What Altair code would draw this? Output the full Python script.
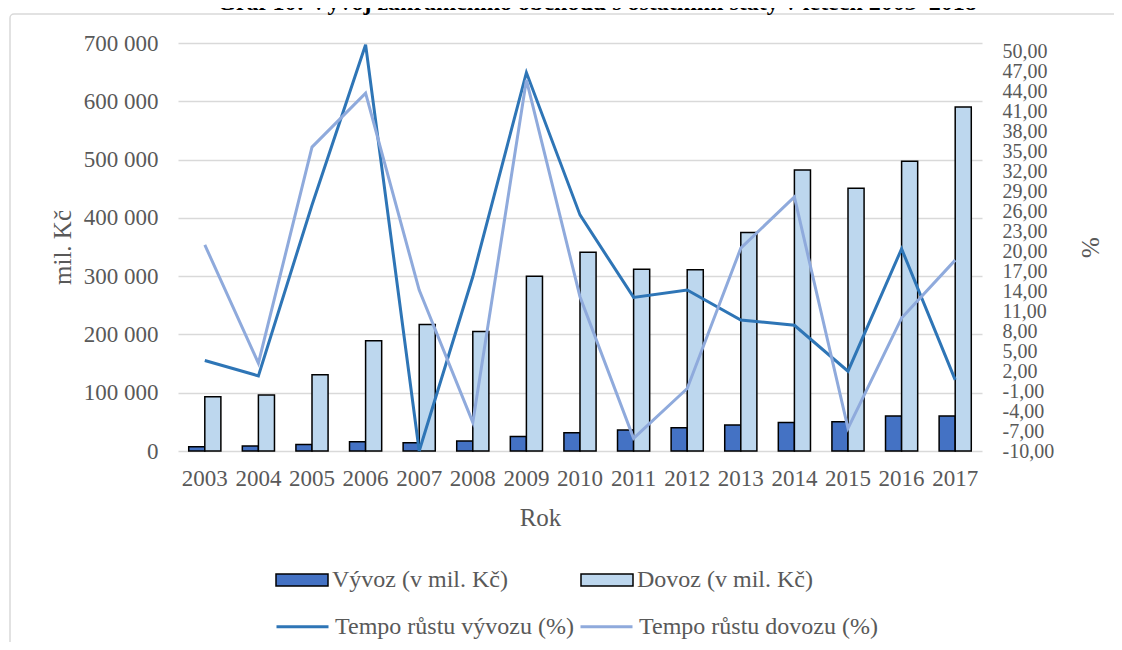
import altair as alt
import pandas as pd

# ---- data ----
roky = [2003, 2004, 2005, 2006, 2007, 2008, 2009, 2010, 2011, 2012, 2013, 2014, 2015, 2016, 2017]
vyvoz = [7400, 8600, 11000, 16000, 14000, 17200, 24800, 31500, 36000, 40000, 44600, 49000, 50300, 60000, 60000]
dovoz = [93000, 96000, 131000, 189000, 217000, 205000, 300000, 341000, 312000, 311000, 375000, 482000, 451000, 497000, 590000]
tempo_vyvozu = [3.6, 1.3, 27.0, 51.1, -10.0, 16.2, 46.9, 25.5, 13.1, 14.2, 9.7, 8.9, 2.0, 20.4, 0.7]
tempo_dovozu = [21.0, 3.2, 35.7, 43.8, 14.2, -5.7, 45.8, 13.2, -8.1, -0.6, 20.5, 28.2, -6.6, 10.0, 18.7]

S_V = "Vývoz (v mil. Kč)"
S_D = "Dovoz (v mil. Kč)"
T_V = "Tempo růstu vývozu (%)"
T_D = "Tempo růstu dovozu (%)"
TITLE = "Graf 10: Vývoj zahraničního obchodu s ostatními státy v letech 2003–2018"

left_ticks = [0, 100000, 200000, 300000, 400000, 500000, 600000, 700000]
right_ticks = [-10, -7, -4, -1, 2, 5, 8, 11, 14, 17, 20, 23, 26, 29, 32, 35, 38, 41, 44, 47, 50]

FONT = "Liberation Serif"
GRAY = "#595959"
GRID = "#D9D9D9"

bars_df = pd.DataFrame({
    "rok": roky + roky,
    "serie": [S_V] * len(roky) + [S_D] * len(roky),
    "hodnota": vyvoz + dovoz,
})
lines_df = pd.DataFrame({
    "rok": roky + roky,
    "serie": [T_V] * len(roky) + [T_D] * len(roky),
    "tempo": tempo_vyvozu + tempo_dovozu,
})

x_enc = alt.X(
    "rok:O",
    scale=alt.Scale(paddingInner=0.4, paddingOuter=0.2),
    axis=alt.Axis(
        title="Rok", labelAngle=0, domain=False, ticks=False,
        labelFont=FONT, labelFontSize=23, labelColor=GRAY, labelPadding=16,
        titleFont=FONT, titleFontSize=25, titleFontWeight="normal", titleColor=GRAY,
        titleX=362, titleY=66, titleAlign="center", titleBaseline="middle",
    ),
)

bars = alt.Chart(bars_df).mark_bar(stroke="black", strokeWidth=1.5).encode(
    x=x_enc,
    xOffset=alt.XOffset("serie:N", sort=[S_V, S_D], scale=alt.Scale(paddingInner=0, paddingOuter=0)),
    y=alt.Y(
        "hodnota:Q",
        scale=alt.Scale(domain=[0, 700000], nice=False),
        axis=alt.Axis(
            title="mil. Kč", values=left_ticks, format=",.0f", orient="left",
            domain=False, ticks=False, grid=True, gridColor=GRID, gridWidth=1.3,
            labelFont=FONT, labelFontSize=23, labelColor=GRAY, labelPadding=20,
            titleFont=FONT, titleFontSize=25, titleFontWeight="normal", titleColor=GRAY,
            titleX=-116, titleY=204, titleAngle=270, titleAlign="center", titleBaseline="middle",
        ),
    ),
    fill=alt.Fill(
        "serie:N",
        scale=alt.Scale(domain=[S_V, S_D], range=["#4472C4", "#BDD7EE"]),
        legend=alt.Legend(
            title=None, orient="none", legendX=97, legendY=510, columns=2, columnPadding=70,
            symbolType="M-1,-0.23H1V0.23H-1Z", symbolSize=2704,
            symbolStrokeColor="black", symbolStrokeWidth=1.5,
            labelFont=FONT, labelFontSize=24, labelColor=GRAY, labelOffset=3, labelLimit=0,
        ),
    ),
)

lines = alt.Chart(lines_df).mark_line(strokeWidth=3, strokeJoin="miter").encode(
    x=x_enc,
    y=alt.Y(
        "tempo:Q",
        scale=alt.Scale(domain=[-10, 51.35], nice=False, zero=False),
        axis=alt.Axis(
            title="%", values=right_ticks, format=".2f", orient="right",
            domain=False, ticks=False, grid=False, labelOverlap=False, labelBound=False,
            labelFont=FONT, labelFontSize=20, labelColor=GRAY, labelPadding=20,
            titleFont=FONT, titleFontSize=25, titleFontWeight="normal", titleColor=GRAY,
            titleX=108, titleY=204, titleAngle=270, titleAlign="center", titleBaseline="middle",
        ),
    ),
    stroke=alt.Stroke(
        "serie:N",
        scale=alt.Scale(domain=[T_V, T_D], range=["#2E75B6", "#8FAADC"]),
        legend=alt.Legend(
            title=None, orient="none", legendX=97, legendY=556, columns=2, columnPadding=0,
            symbolType="stroke", symbolSize=2704, symbolStrokeWidth=3,
            labelFont=FONT, labelFontSize=24, labelColor=GRAY, labelOffset=5, labelLimit=0,
        ),
    ),
    order="rok:O",
)

frame = alt.Chart(pd.DataFrame({"f": [1]})).mark_rect(
    fill="transparent", stroke=GRID, strokeWidth=1.5, cornerRadius=4
).encode(
    x=alt.value(-168), x2=alt.value(1000), y=alt.value(-29), y2=alt.value(700)
)

title_text = alt.Chart(pd.DataFrame({"t": [TITLE]})).mark_text(
    font=FONT, fontSize=24, fontWeight="bold", color="black", align="center", baseline="alphabetic"
).encode(
    text="t:N", x=alt.value(419), y=alt.value(-33)
)

chart = alt.layer(frame, bars, lines, title_text).resolve_scale(
    y="independent"
).properties(
    width=804, height=408,
    padding={"left": 170, "top": 35, "right": 132, "bottom": 191},
    autosize=alt.AutoSizeParams(type="none"),
).configure(
    locale={"number": {"decimal": ",", "thousands": "\u00a0", "grouping": [3],
                       "currency": ["", "\u00a0Kč"], "minus": "-"}}
).configure_view(stroke=None)

chart.save("out.html", embed_options={"renderer": "svg", "actions": False})
